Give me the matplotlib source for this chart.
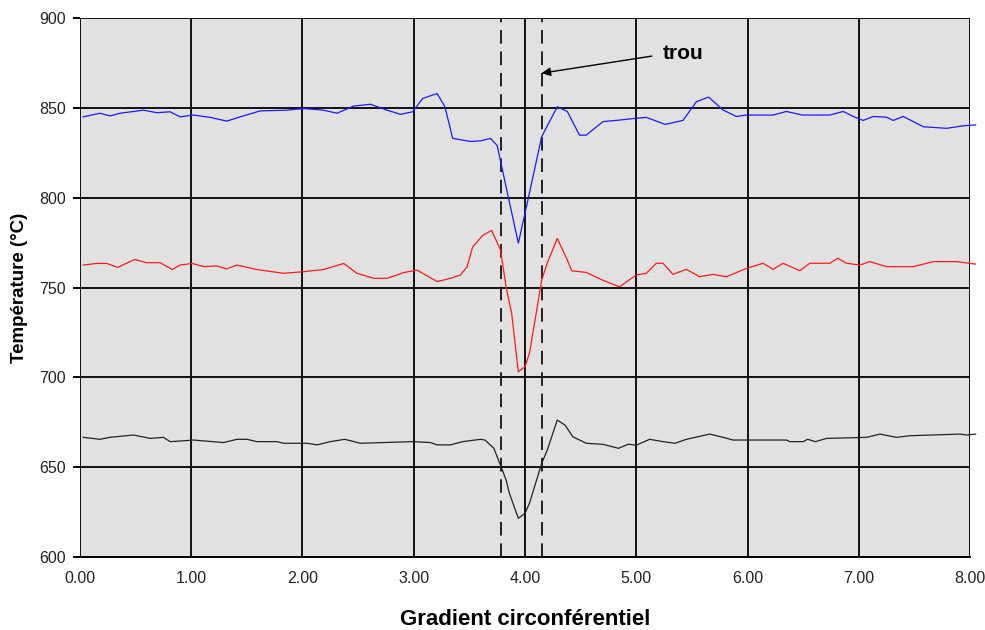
import numpy as np
import matplotlib.pyplot as plt

# series (x = gradient, y = temperature in degC)
x_blue = [0.03, 0.18, 0.27, 0.36, 0.57, 0.69, 0.81, 0.90, 1.02, 1.17, 1.32, 1.44, 1.62, 1.86,
          2.01, 2.19, 2.31, 2.46, 2.61, 2.76, 2.88, 2.99, 3.08, 3.21, 3.28, 3.35, 3.51, 3.60,
          3.69, 3.75, 3.83, 3.94, 4.02, 4.15, 4.29, 4.38, 4.49, 4.55, 4.70, 4.85, 4.97, 5.09,
          5.26, 5.42, 5.54, 5.65, 5.78, 5.90, 5.99, 6.23, 6.35, 6.49, 6.74, 6.86, 6.95, 7.04,
          7.13, 7.25, 7.31, 7.40, 7.58, 7.79, 7.94, 8.05]
y_blue = [845.0, 847.0, 845.5, 847.0, 848.7, 847.3, 847.8, 845.0, 846.0, 844.7, 842.6, 845.0,
          848.3, 848.7, 849.6, 848.7, 847.0, 851.0, 852.0, 848.7, 846.4, 847.8, 855.2, 858.0,
          850.6, 833.0, 831.3, 831.6, 833.0, 829.0, 806.0, 774.7, 797.0, 834.0, 850.6, 848.0,
          834.8, 834.8, 842.3, 843.2, 844.0, 844.7, 840.8, 843.0, 853.4, 856.0, 848.8, 845.2,
          846.0, 846.0, 848.0, 846.0, 846.0, 848.0, 845.2, 843.0, 845.2, 844.8, 843.0, 845.2,
          839.5, 838.6, 840.0, 840.5]

x_red = [0.03, 0.15, 0.24, 0.34, 0.49, 0.60, 0.72, 0.83, 0.90, 1.01, 1.11, 1.23, 1.32, 1.41,
         1.59, 1.83, 2.01, 2.19, 2.37, 2.49, 2.64, 2.76, 2.91, 3.03, 3.21, 3.33, 3.42, 3.48,
         3.53, 3.62, 3.70, 3.78, 3.83, 3.88, 3.94, 4.00, 4.04, 4.15, 4.20, 4.29, 4.38, 4.42,
         4.55, 4.70, 4.85, 5.00, 5.09, 5.18, 5.24, 5.33, 5.45, 5.57, 5.69, 5.81, 5.99, 6.14,
         6.23, 6.32, 6.47, 6.56, 6.74, 6.81, 6.89, 7.01, 7.10, 7.25, 7.49, 7.67, 7.88, 8.05]
y_red = [762.5, 763.4, 763.4, 761.2, 765.6, 763.8, 763.8, 760.0, 762.5, 763.4, 761.6, 762.0,
         760.4, 762.5, 760.0, 757.9, 758.8, 760.0, 763.4, 757.9, 755.1, 755.1, 758.3, 759.7,
         753.3, 755.1, 757.0, 761.6, 772.7, 779.0, 781.8, 770.8, 750.4, 735.6, 703.1, 705.9,
         713.4, 754.0, 763.7, 777.3, 765.3, 759.3, 758.4, 754.0, 750.4, 757.0, 757.9, 763.5,
         763.5, 757.3, 760.1, 756.0, 757.3, 756.0, 760.6, 763.5, 760.1, 763.5, 759.3, 763.5,
         763.5, 766.3, 763.5, 762.5, 764.4, 761.6, 761.6, 764.4, 764.4, 763.0]

x_black = [0.03, 0.18, 0.27, 0.48, 0.63, 0.75, 0.81, 0.96, 1.02, 1.29, 1.41, 1.50, 1.59, 1.77,
           1.83, 2.04, 2.13, 2.25, 2.38, 2.52, 2.99, 3.15, 3.21, 3.33, 3.44, 3.60, 3.64, 3.72,
           3.79, 3.83, 3.86, 3.94, 4.00, 4.04, 4.15, 4.20, 4.29, 4.36, 4.43, 4.55, 4.70, 4.84,
           4.93, 5.00, 5.12, 5.24, 5.35, 5.45, 5.66, 5.78, 5.87, 6.35, 6.38, 6.50, 6.54, 6.61,
           6.71, 7.07, 7.19, 7.34, 7.46, 7.91, 7.97, 8.05]
y_black = [666.6, 665.5, 666.6, 667.9, 666.0, 666.6, 664.2, 664.8, 665.1, 663.7, 665.5, 665.5,
           664.2, 664.2, 663.3, 663.3, 662.4, 664.2, 665.5, 663.3, 664.2, 663.7, 662.4, 662.4,
           664.2, 665.5, 665.1, 660.5, 649.4, 642.8, 635.4, 621.5, 624.3, 629.9, 652.1, 659.5,
           676.2, 673.4, 666.9, 663.3, 662.7, 660.5, 662.8, 662.2, 665.5, 664.2, 663.3, 665.5,
           668.4, 666.6, 665.1, 665.1, 664.2, 664.2, 665.5, 664.2, 666.0, 666.6, 668.4, 666.6,
           667.5, 668.4, 667.9, 668.4]

hole_edges = [3.78, 4.15]
x_ticks = [0, 1, 2, 3, 4, 5, 6, 7, 8]
y_ticks = [600, 650, 700, 750, 800, 850, 900]

plt.rcParams['font.family'] = ['Liberation Sans', 'DejaVu Sans']

fig = plt.figure(figsize=(9.85, 6.3), dpi=100)
ax = fig.add_axes([0.0812, 0.1159, 0.9036, 0.8555])
ax.set_facecolor('#e1e1e1')

ax.set_xlim(0, 8)
ax.set_ylim(600, 900)
ax.set_xticks(x_ticks)
ax.set_xticklabels(['%.2f' % t for t in x_ticks])
ax.set_yticks(y_ticks)
ax.grid(True, color='#111111', linewidth=1.4)
ax.set_axisbelow(True)

for s in ['left', 'top', 'right']:
    ax.spines[s].set_visible(False)
ax.spines['bottom'].set_color('black')
ax.spines['bottom'].set_linewidth(1.4)
ax.tick_params(axis='x', length=0, pad=10, labelsize=11.5, labelcolor='#222222')
ax.tick_params(axis='y', length=5, width=1.4, color='black', pad=5, labelsize=11.5,
               labelcolor='#222222')

for xe in hole_edges:
    ax.axvline(xe, color='#222222', linewidth=1.4, linestyle=(0, (7, 4)))

ax.plot(x_blue, y_blue, color='#1a1aff', linewidth=0.9, clip_on=False)
ax.plot(x_red, y_red, color='#ff1a1a', linewidth=0.9, clip_on=False)
ax.plot(x_black, y_black, color='#222222', linewidth=0.9, clip_on=False)

ax.annotate('', xy=(4.15, 869.3), xytext=(5.14, 878.8),
            arrowprops=dict(arrowstyle='-|>', color='black', lw=1.0,
                            shrinkA=0, shrinkB=0, mutation_scale=13))
ax.text(5.24, 880.5, 'trou', fontsize=15, fontweight='bold', va='center', ha='left')

ax.set_xlabel('Gradient circonférentiel', fontsize=16, fontweight='bold', labelpad=17)
ax.set_ylabel('Température (°C)', fontsize=13.5, fontweight='bold', labelpad=8)

fig.savefig('out.png', dpi=100)
